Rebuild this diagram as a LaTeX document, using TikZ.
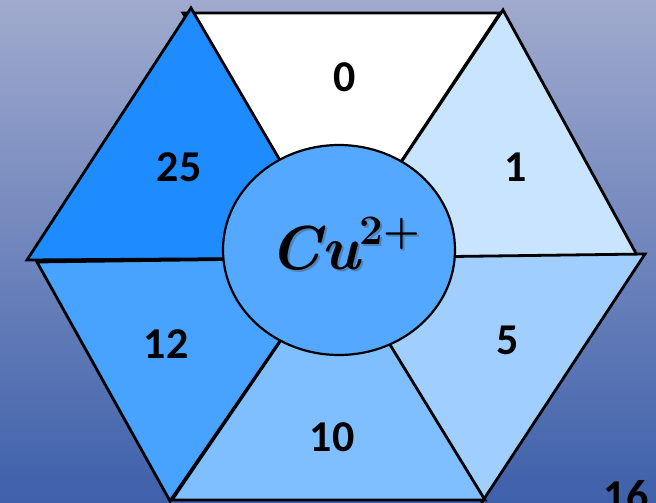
\documentclass[tikz,border=0pt]{standalone}
\usepackage{amsmath}
\usepackage[no-math]{fontspec}
\newfontfamily\numfont{Carlito}
\usetikzlibrary{shapes.geometric}
\definecolor{bgtop}{RGB}{160,170,206}
\definecolor{bgbot}{RGB}{62,96,170}
\definecolor{cuA}{RGB}{30,140,255}
\definecolor{cuB}{RGB}{72,162,255}
\definecolor{cuC}{RGB}{128,191,255}
\definecolor{cuD}{RGB}{160,206,255}
\definecolor{cuE}{RGB}{200,228,255}
\definecolor{cuion}{RGB}{85,168,255}
\newcommand\cuion{{\bfseries\itshape Cu}\raisebox{.4em}{\fontsize{42}{44}\selectfont\bfseries 2+}}
\tikzset{sector/.style={draw=black,line width=2.8pt,line join=miter},
ion/.style={ellipse,draw=black,line width=2.2pt,fill=cuion,minimum width=232pt,minimum height=210pt,inner sep=0pt},
num/.style={font=\numfont\bfseries\fontsize{44}{48}\selectfont,inner sep=0pt},
ionlab/.style={font=\fontsize{62}{66}\selectfont,inner sep=0pt}}

\begin{document}
\begin{tikzpicture}[x=1pt,y=-1pt]
\useasboundingbox (0,0) rectangle (656,503);
\shade[top color=bgtop,bottom color=bgbot] (0,0) rectangle (656,503);
\coordinate (c) at (337,258);
% six sectors of the hexagon
\draw[sector,fill=white] (183,13) -- (500,13) -- (c) -- cycle;
\draw[sector,fill=cuE] (503,10) -- (638,257) -- (c) -- cycle;
\draw[sector,fill=cuD] (645,254) -- (482,502) -- (c) -- cycle;
\draw[sector,fill=cuC] (485,500) -- (172,500) -- (c) -- cycle;
\draw[sector,fill=cuB] (170,501) -- (37,262) -- (c) -- cycle;
\draw[sector,fill=cuA] (27,260) -- (191,8) -- (c) -- cycle;
\node[ion] (cu) at (339,250) {};
\node[ionlab,text=black!70,opacity=.4] at (347,246) {\cuion};
\node[ionlab] (culab) at (345,244) {\cuion};
\foreach \n/\p/\t in {n0/{(345,77)}/0,n1/{(516,167)}/1,n5/{(508,340)}/5,n10/{(332,437)}/10,n12/{(166,344)}/12,n25/{(179,167)}/25,n16/{(626,496)}/16}
  \node[num] (\n) at \p {\t};
\end{tikzpicture}
\end{document}
